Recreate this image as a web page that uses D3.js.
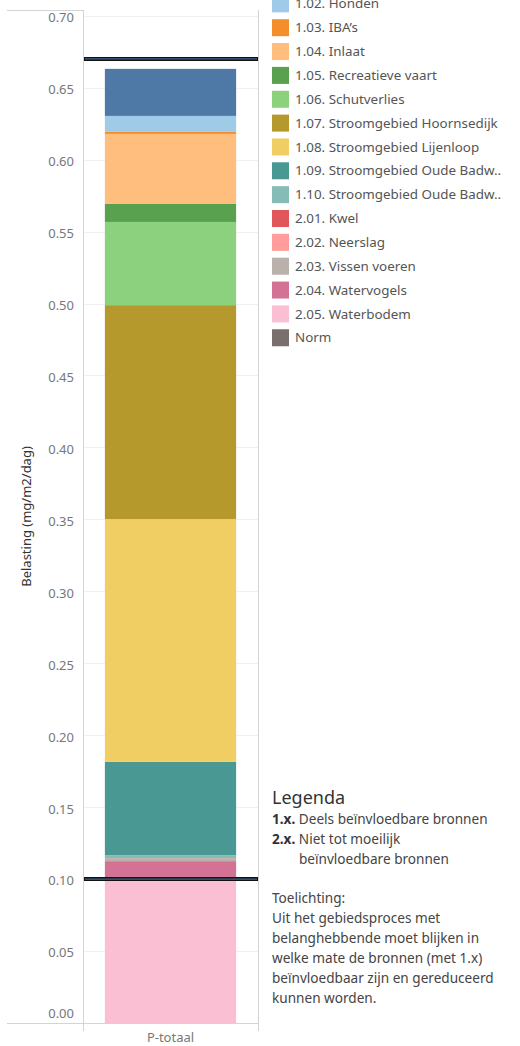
<!DOCTYPE html>
<html>
<head>
<meta charset="utf-8">
<script src="https://cdn.jsdelivr.net/npm/d3@7"></script>
<style>
  body { margin: 0; background: #fff; }
  text { font-family: "Noto Sans", sans-serif; }
</style>
</head>
<body>
<script>
// categories, stacked from the top of the bar downwards (Tableau order)
const categories = [
  "1.01.", "1.02. Honden", "1.03. IBA’s", "1.04. Inlaat", "1.05. Recreatieve vaart",
  "1.06. Schutverlies", "1.07. Stroomgebied Hoornsedijk", "1.08. Stroomgebied Lijenloop",
  "1.09. Stroomgebied Oude Badw..", "1.10. Stroomgebied Oude Badw..",
  "2.01. Kwel", "2.02. Neerslag", "2.03. Vissen voeren", "2.04. Watervogels", "2.05. Waterbodem"
];
const values = [
  0.0327, 0.0111, 0.0014, 0.0487, 0.0125,
  0.0578, 0.1487, 0.1687,
  0.0649, 0.0013,
  0.0004, 0.0003, 0.0021, 0.0132, 0.0993
];
const colors = [
  "#4e79a7", "#a0cbe8", "#f28e2b", "#ffbe7d", "#59a14f",
  "#8cd17d", "#b6992d", "#f1ce63", "#499894", "#86bcb6",
  "#e15759", "#ff9d9a", "#bab0ac", "#d37295", "#fabfd2"
];
const normValues = [0.67, 0.10];
const normColor = "#79706e";
const yTicks = [0, 0.05, 0.10, 0.15, 0.20, 0.25, 0.30, 0.35, 0.40, 0.45, 0.50, 0.55, 0.60, 0.65, 0.70];
const xCategory = "P-totaal";

const width = 520, height = 1046;
const pane = {left: 83, right: 258, top: 10, bottom: 1023};

const svg = d3.select("body").append("svg")
  .attr("width", width)
  .attr("height", height);

const y = d3.scaleLinear()
  .domain([0, 0.704])
  .range([pane.bottom, pane.top]);

const x = d3.scaleBand()
  .domain([xCategory])
  .range([pane.left, pane.right])
  .paddingInner(0.25)
  .paddingOuter(0.125);

// gridlines
svg.append("g")
  .selectAll("line")
  .data(yTicks.slice(1))
  .join("line")
  .attr("x1", pane.left).attr("x2", pane.right)
  .attr("y1", d => Math.round(y(d)) + 0.5).attr("y2", d => Math.round(y(d)) + 0.5)
  .attr("stroke", "#f0f0f0");

// stacked bar: build cumulative offsets from the bottom
const rows = categories.map((c, i) => ({cat: c, value: values[i], color: colors[i]}));
let acc = 0;
const stacked = rows.slice().reverse().map(r => {
  const s = {...r, y0: acc, y1: acc + r.value};
  acc += r.value;
  return s;
});

svg.append("g")
  .selectAll("rect")
  .data(stacked)
  .join("rect")
  .attr("x", x(xCategory))
  .attr("width", x.bandwidth())
  .attr("y", d => y(d.y1))
  .attr("height", d => y(d.y0) - y(d.y1))
  .attr("fill", d => d.color);

// frame lines
const frame = svg.append("g").attr("stroke", "#d4d4d4").attr("fill", "none");
frame.append("line").attr("x1", 7).attr("x2", pane.left).attr("y1", pane.top + 0.5).attr("y2", pane.top + 0.5);
frame.append("line").attr("x1", pane.left + 0.5).attr("x2", pane.left + 0.5).attr("y1", pane.top).attr("y2", pane.bottom + 8);
frame.append("line").attr("x1", pane.right + 0.5).attr("x2", pane.right + 0.5).attr("y1", pane.top).attr("y2", pane.bottom + 8);
frame.append("line").attr("x1", 7).attr("x2", pane.right).attr("y1", pane.bottom + 0.5).attr("y2", pane.bottom + 0.5);

// norm reference lines
const norm = svg.append("g");
norm.selectAll("line.outer")
  .data(normValues)
  .join("line")
  .attr("class", "outer")
  .attr("x1", pane.left + 1).attr("x2", pane.right)
  .attr("y1", d => y(d)).attr("y2", d => y(d))
  .attr("stroke", "#111").attr("stroke-width", 4);
norm.selectAll("line.inner")
  .data(normValues)
  .join("line")
  .attr("class", "inner")
  .attr("x1", pane.left + 2).attr("x2", pane.right - 1)
  .attr("y1", d => y(d)).attr("y2", d => y(d))
  .attr("stroke", "#3f6590").attr("stroke-width", 1.3);

// y axis labels
const yAxis = svg.append("g")
  .attr("transform", `translate(${pane.left}, 0)`)
  .call(d3.axisLeft(y).tickValues(yTicks).tickFormat(d3.format(".2f")).tickSize(0).tickPadding(9));
yAxis.select(".domain").remove();
yAxis.selectAll("text")
  .attr("fill", "#777")
  .style("font-size", "13px")
  .style("font-family", "Noto Sans")
  .attr("dy", d => d === 0 ? "-0.45em" : "0.45em");

// y axis title
svg.append("text")
  .attr("transform", `translate(31, ${(pane.top + pane.bottom) / 2}) rotate(-90)`)
  .attr("text-anchor", "middle")
  .attr("fill", "#333")
  .style("font-size", "13px")
  .text("Belasting (mg/m2/dag)");

// x axis label
const xAxis = svg.append("g")
  .attr("transform", `translate(0, ${pane.bottom})`)
  .call(d3.axisBottom(x).tickSize(0).tickPadding(10));
xAxis.select(".domain").remove();
xAxis.selectAll("text")
  .attr("fill", "#777")
  .style("font-size", "13px")
  .style("font-family", "Noto Sans");

// colour legend (scrolled: first item sits above the window)
const legendItems = rows.map(r => ({label: r.cat, color: r.color})).concat([{label: "Norm", color: normColor}]);
const legend = svg.append("g").attr("transform", "translate(272, -20)");
const li = legend.selectAll("g")
  .data(legendItems)
  .join("g")
  .attr("transform", (d, i) => `translate(0, ${i * 23.85})`);
li.append("rect")
  .attr("x", 0).attr("y", -8.5)
  .attr("width", 17).attr("height", 17)
  .attr("fill", d => d.color);
li.append("text")
  .attr("x", 23).attr("y", 4.6)
  .attr("fill", "#555")
  .style("font-size", "13.4px")
  .text(d => d.label);

// legenda / toelichting text block
const note = svg.append("g").attr("transform", "translate(272, 0)");
note.append("text")
  .attr("x", 0).attr("y", 804)
  .attr("fill", "#333")
  .style("font-size", "18px")
  .text("Legenda");
const noteLines = [
  {b: "1.x.", t: " Deels beïnvloedbare bronnen", y: 824, x: 0},
  {b: "2.x.", t: " Niet tot moeilijk", y: 844, x: 0},
  {b: "", t: "beïnvloedbare bronnen", y: 864, x: 27},
  {b: "", t: "Toelichting:", y: 903, x: 0},
  {b: "", t: "Uit het gebiedsproces met", y: 923, x: 0},
  {b: "", t: "belanghebbende moet blijken in", y: 943, x: 0},
  {b: "", t: "welke mate de bronnen (met 1.x)", y: 963, x: 0},
  {b: "", t: "beïnvloedbaar zijn en gereduceerd", y: 983, x: 0},
  {b: "", t: "kunnen worden.", y: 1003, x: 0}
];
const nt = note.selectAll("text.line")
  .data(noteLines)
  .join("text")
  .attr("class", "line")
  .attr("x", d => d.x).attr("y", d => d.y)
  .attr("fill", "#444")
  .style("font-size", "13.6px");
nt.append("tspan").attr("font-weight", "bold").attr("fill", "#333").text(d => d.b);
nt.append("tspan").text(d => d.t);
</script>
</body>
</html>
